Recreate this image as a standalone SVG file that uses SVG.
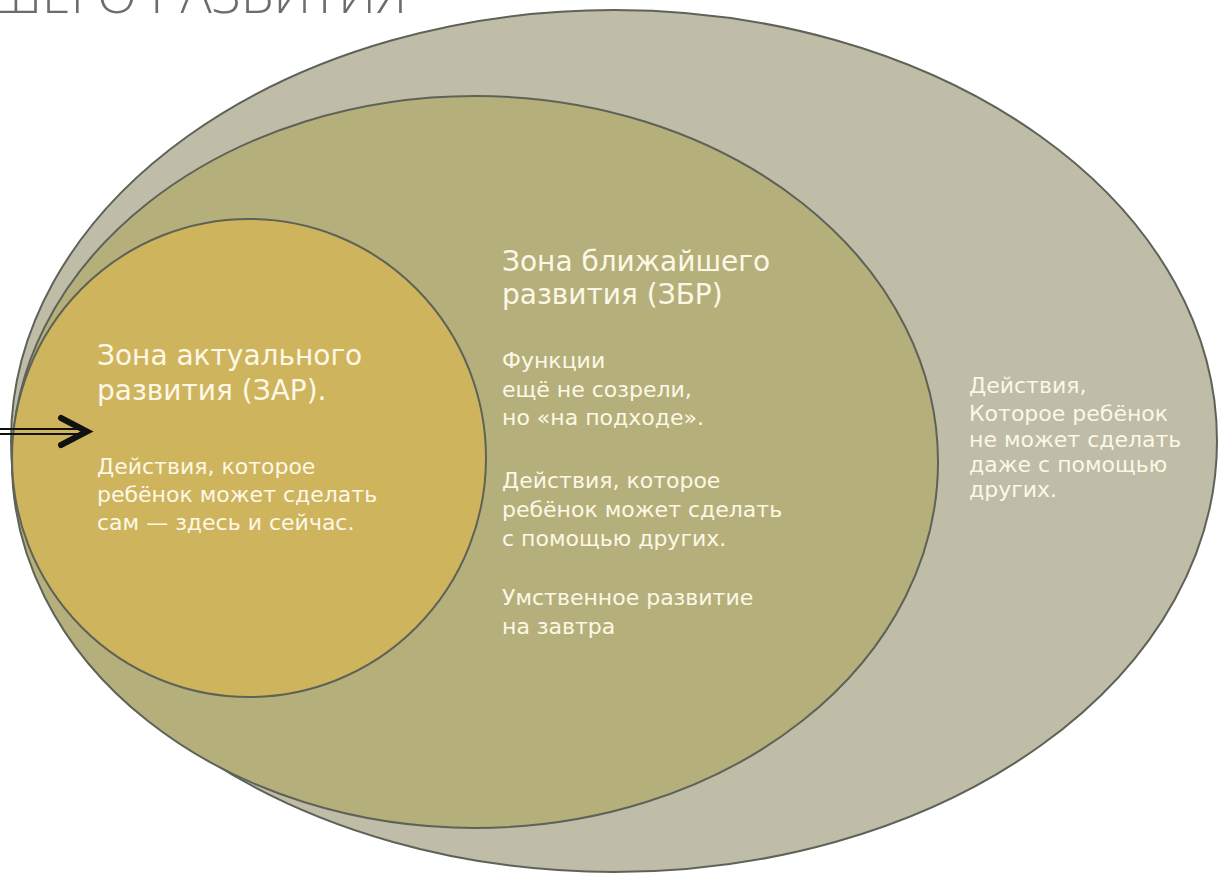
<svg xmlns="http://www.w3.org/2000/svg" width="1218" height="875" viewBox="0 0 1218 875">
  <style>
    .zone { stroke: #5e6257; stroke-width: 2; }
    .head { font-family: "DejaVu Sans", "Liberation Sans", sans-serif; font-size: 28px; fill: #fdf8e6; }
    .body { font-family: "DejaVu Sans", "Liberation Sans", sans-serif; font-size: 22px; fill: #fdf8e6; }
    .title { font-family: "Open Sans", "DejaVu Sans", sans-serif; font-weight: 300; font-size: 52px; fill: #6c6c6c; }
  </style>
  <rect width="1218" height="875" fill="#ffffff"/>
  <text class="title" x="407" y="13" text-anchor="end">ШЕГО РАЗВИТИЯ</text>

  <g id="outer-zone">
    <ellipse class="zone" cx="614" cy="441" rx="603" ry="431" fill="#bfbca7"/>
    <text class="body" x="969" y="393">Действия,</text>
    <text class="body" x="969" y="421">Которое ребёнок</text>
    <text class="body" x="969" y="447">не может сделать</text>
    <text class="body" x="969" y="472">даже с помощью</text>
    <text class="body" x="969" y="497">других.</text>
  </g>

  <g id="zbr">
    <ellipse class="zone" cx="475" cy="462" rx="463" ry="366" fill="#b5b07b"/>
    <text class="head" x="502" y="271">Зона ближайшего</text>
    <text class="head" x="502" y="304">развития (ЗБР)</text>
    <text class="body" x="502" y="368">Функции</text>
    <text class="body" x="502" y="397">ещё не созрели,</text>
    <text class="body" x="502" y="425">но «на подходе».</text>
    <text class="body" x="502" y="488">Действия, которое</text>
    <text class="body" x="502" y="517">ребёнок может сделать</text>
    <text class="body" x="502" y="546">с помощью других.</text>
    <text class="body" x="502" y="605">Умственное развитие</text>
    <text class="body" x="502" y="634">на завтра</text>
  </g>

  <g id="zar">
    <ellipse class="zone" cx="249" cy="458" rx="237" ry="239" fill="#cfb45e"/>
    <text class="head" x="97" y="365">Зона актуального</text>
    <text class="head" x="97" y="400">развития (ЗАР).</text>
    <text class="body" x="97" y="474">Действия, которое</text>
    <text class="body" x="97" y="502">ребёнок может сделать</text>
    <text class="body" x="97" y="530">сам — здесь и сейчас.</text>
  </g>

  <g id="connectors">
    <line x1="0" y1="429" x2="78" y2="429" stroke="#111" stroke-width="2"/>
    <line x1="0" y1="434" x2="78" y2="434" stroke="#111" stroke-width="2"/>
    <polyline points="61,418 87,431.5 61,445" fill="none" stroke="#111" stroke-width="6" stroke-linecap="round" stroke-linejoin="miter"/>
  </g>
</svg>
